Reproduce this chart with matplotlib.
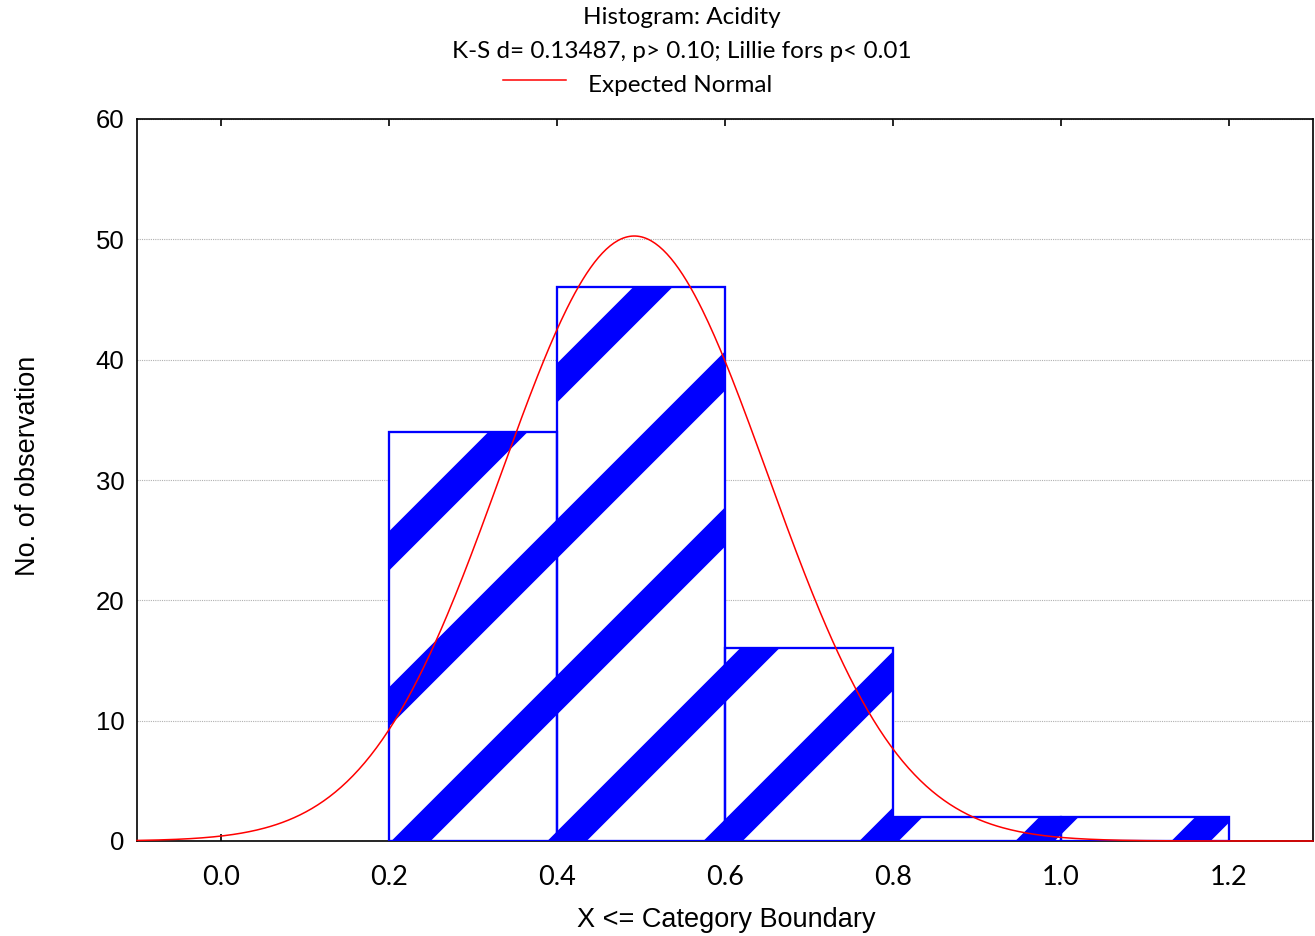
import numpy as np
import matplotlib
matplotlib.use("Agg")
import matplotlib.pyplot as plt
from matplotlib.collections import LineCollection
from matplotlib.transforms import Affine2D

# <------------------------ datos ------------------------>
bin_left = [0.2, 0.4, 0.6, 0.8, 1.0]
bin_width = 0.2
counts = [34, 46, 16, 2, 2]
x_ticks = [0.0, 0.2, 0.4, 0.6, 0.8, 1.0, 1.2]
x_labels = ["0.0", "0.2", "0.4", "0.6", "0.8", "1.0", "1.2"]
y_ticks = [0, 10, 20, 30, 40, 50, 60]
mu = 0.492      # media estimada de la curva
sd = 0.1587     # desviacion estimada

title1 = "Histogram: Acidity"
title2 = "K-S d= 0.13487, p> 0.10; Lillie fors p< 0.01"
legend_txt = "Expected Normal"

BLUE = "#0000ff"
calib = ["Lato", "DejaVu Sans"]
arial = ["Liberation Sans", "DejaVu Sans"]

fig = plt.figure(figsize=(13.15, 9.36), dpi=100)
ax = fig.add_axes([137 / 1315, 95 / 936, 1176 / 1315, 722 / 936])

ax.set_xlim(-0.1, 1.3)
ax.set_ylim(0, 60)

# grid
ax.set_axisbelow(True)
ax.yaxis.grid(True, linestyle=(0, (1, 1)), color="#b0b0b0", linewidth=0.8)

# barras
bars = ax.bar(bin_left, counts, width=bin_width, align="edge",
              facecolor="white", edgecolor=BLUE, linewidth=1.5, zorder=2)

# rayas diagonales (en pixeles, relativas al origen de los ejes)
period = 156
shift = 118
segs = []
for k in range(-7, 9):
    c = shift + period * k
    segs.append([(-300, -300 - c), (1600, 1600 - c)])
tr = Affine2D().translate(ax.bbox.x0, ax.bbox.y0)
for b in bars:
    lc = LineCollection(segs, colors=BLUE, linewidths=20, capstyle="butt",
                        transform=tr, zorder=2.5)
    ax.add_collection(lc, autolim=False)
    lc.set_clip_path(b)
ax.bar(bin_left, counts, width=bin_width, align="edge",
       facecolor="none", edgecolor=BLUE, linewidth=1.6, zorder=2.6)

# curva normal esperada
n = sum(counts)
xs = np.linspace(-0.1, 1.3, 600)
ys = n * bin_width * np.exp(-0.5 * ((xs - mu) / sd) ** 2) / (sd * np.sqrt(2 * np.pi))
ax.plot(xs, ys, color="red", linewidth=1.1, zorder=3, clip_on=False)

# ejes
for s in ax.spines.values():
    s.set_color("black")
    s.set_linewidth(1.2)
ax.set_xticks(x_ticks)
ax.set_xticklabels(x_labels, fontfamily=calib, fontsize=19.5)
ax.set_yticks(y_ticks)
ax.set_yticklabels([str(v) for v in y_ticks], fontfamily=arial, fontsize=18.5)
ax.tick_params(axis="x", direction="in", length=5, width=1.2, top=True, pad=17)
ax.tick_params(axis="y", length=0, pad=9)

fig.text(726 / 1315, 1 - 920 / 936, "X <= Category Boundary", ha="center", va="center",
         fontfamily=arial, fontsize=19.5)
fig.text(28 / 1315, 1 - 466 / 936, "No. of observation", ha="center", va="center",
         rotation=90, fontfamily=arial, fontsize=19.5)

# titulo y leyenda
fig.text(682 / 1315, 1 - 18 / 936, title1, ha="center", va="center",
         fontfamily=calib, fontsize=17.5)
fig.text(682 / 1315, 1 - 51 / 936, title2, ha="center", va="center",
         fontfamily=calib, fontsize=17.5)
fig.add_artist(plt.Line2D([503 / 1315, 566 / 1315], [1 - 80 / 936, 1 - 80 / 936],
                          color="red", linewidth=1.1))
fig.text(588 / 1315, 1 - 85 / 936, legend_txt, ha="left", va="center",
         fontfamily=calib, fontsize=17.5)

fig.savefig("out.png", dpi=100, facecolor="white")
